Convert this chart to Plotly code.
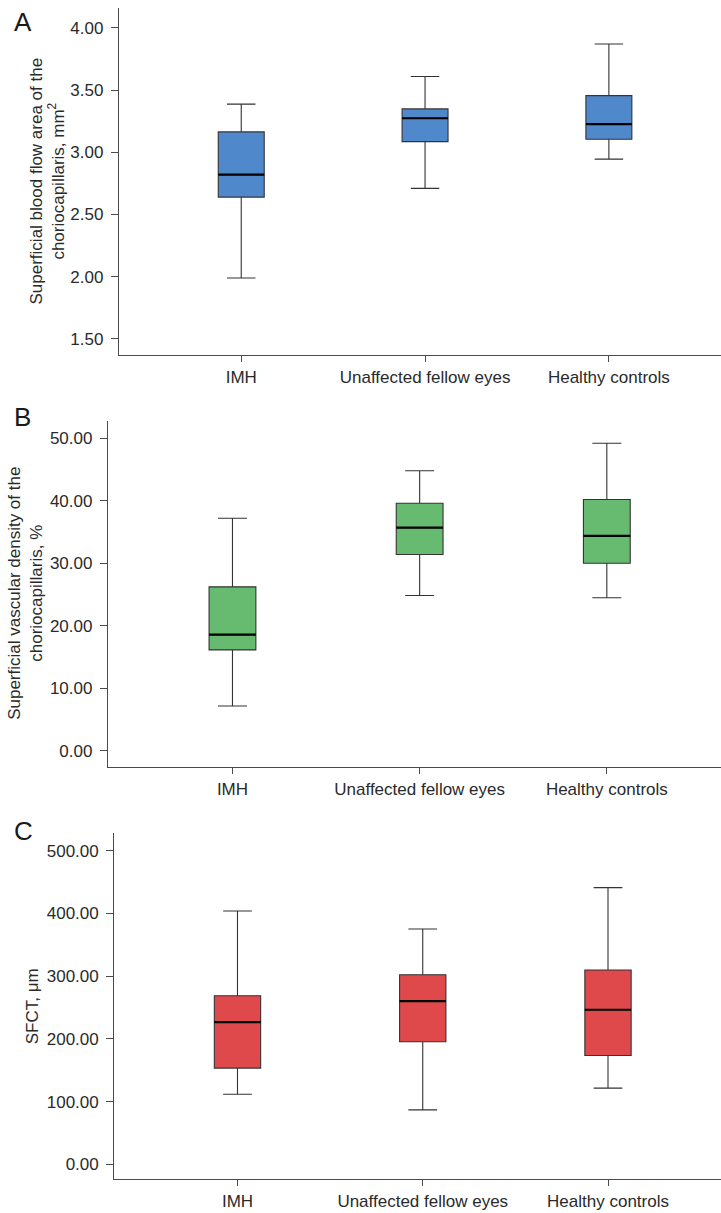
import plotly.graph_objects as go

categories = ["IMH", "Unaffected fellow eyes", "Healthy controls"]

# Panel A: Superficial blood flow area (mm2)
a_lower = [1.99, 2.71, 2.945]
a_q1 = [2.64, 3.086, 3.105]
a_median = [2.82, 3.274, 3.226]
a_q3 = [3.164, 3.349, 3.456]
a_upper = [3.387, 3.609, 3.871]

# Panel B: Superficial vascular density (%)
b_lower = [7.2, 24.85, 24.5]
b_q1 = [16.16, 31.4, 30.0]
b_median = [18.6, 35.7, 34.4]
b_q3 = [26.24, 39.6, 40.2]
b_upper = [37.2, 44.8, 49.2]

# Panel C: SFCT (um)
c_lower = [111.8, 86.7, 121.4]
c_q1 = [153.4, 195.4, 173.5]
c_median = [226.8, 260.4, 246.5]
c_q3 = [268.8, 302.4, 309.9]
c_upper = [404.0, 375.4, 441.4]

W, H = 721, 1213
BOX_W = 0.25
FONT = "Liberation Sans, Arial, sans-serif"
TXT = "#2a2a2a"
AX = "#4a4a4a"

panels = [
    dict(lo=a_lower, q1=a_q1, med=a_median, q3=a_q3, up=a_upper, color="#5088cc",
         xl=119, top=8, bot=355, yr=[1.371, 4.16], dtick=0.5,
         title="Superficial blood flow area of the<br>choriocapillaris, mm<sup>2</sup>",
         tx=47, letter="A", lx=22.5, ly=22.3),
    dict(lo=b_lower, q1=b_q1, med=b_median, q3=b_q3, up=b_upper, color="#67bb70",
         xl=108, top=420.7, bot=767, yr=[-2.56, 52.8], dtick=10,
         title="Superficial vascular density of the<br>choriocapillaris, %",
         tx=26, letter="B", lx=22.5, ly=417),
    dict(lo=c_lower, q1=c_q1, med=c_median, q3=c_q3, up=c_upper, color="#e0494b",
         xl=114.3, top=833.3, bot=1179.3, yr=[-24, 528], dtick=100,
         title="SFCT, μm",
         tx=32, letter="C", lx=23, ly=831),
]

fig = go.Figure()
annotations = []
xpos = list(range(len(categories)))

for i, p in enumerate(panels):
    n = "" if i == 0 else str(i + 1)
    xa, ya = "x" + n, "y" + n
    fig.add_trace(go.Box(
        x=xpos, q1=p["q1"], median=p["med"], q3=p["q3"],
        lowerfence=p["lo"], upperfence=p["up"],
        width=BOX_W, whiskerwidth=0.62,
        fillcolor=p["color"], line=dict(color="#333333", width=1.1),
        boxpoints=False, xaxis=xa, yaxis=ya, showlegend=False, hoverinfo="skip",
    ))
    mx, my = [], []
    for xi, m in zip(xpos, p["med"]):
        mx += [xi - BOX_W / 2, xi + BOX_W / 2, None]
        my += [m, m, None]
    fig.add_trace(go.Scatter(x=mx, y=my, mode="lines", line=dict(color="#000000", width=2.2),
                             xaxis=xa, yaxis=ya, showlegend=False, hoverinfo="skip"))

    xdom = [p["xl"] / W, 1.0]
    ydom = [1 - p["bot"] / H, 1 - p["top"] / H]
    fig.layout["xaxis" + n] = dict(
        domain=xdom, anchor=ya, range=[-0.665, 2.61],
        tickmode="array", tickvals=xpos, ticktext=categories,
        showline=True, linecolor=AX, linewidth=1.3, ticks="outside", ticklen=6,
        tickcolor=AX, tickwidth=1.3, showgrid=False, zeroline=False,
        tickfont=dict(family=FONT, size=17, color=TXT),
    )
    fig.layout["yaxis" + n] = dict(
        domain=ydom, anchor=xa, range=p["yr"], dtick=p["dtick"], tick0=0,
        tickformat=".2f", showline=True, linecolor=AX, linewidth=1.3,
        ticks="outside", ticklen=7, tickcolor=AX, tickwidth=1.3,
        showgrid=False, zeroline=False, ticklabelstandoff=4,
        tickfont=dict(family=FONT, size=17, color=TXT),
    )
    annotations.append(dict(
        text=p["title"], textangle=-90, xref="paper", yref="paper",
        x=p["tx"] / W, y=1 - (p["top"] + p["bot"]) / 2 / H,
        xanchor="center", yanchor="middle", showarrow=False,
        font=dict(family=FONT, size=17, color=TXT),
    ))
    annotations.append(dict(
        text=p["letter"], xref="paper", yref="paper",
        x=p["lx"] / W, y=1 - p["ly"] / H, xanchor="center", yanchor="middle",
        showarrow=False, font=dict(family=FONT, size=26, color="#1a1a1a"),
    ))

fig.update_layout(
    width=W, height=H, margin=dict(l=0, r=0, t=0, b=0),
    paper_bgcolor="white", plot_bgcolor="white",
    annotations=annotations,
)

fig.write_html("out.html", config={"displayModeBar": False},
               post_script="document.body.style.margin='0';")
